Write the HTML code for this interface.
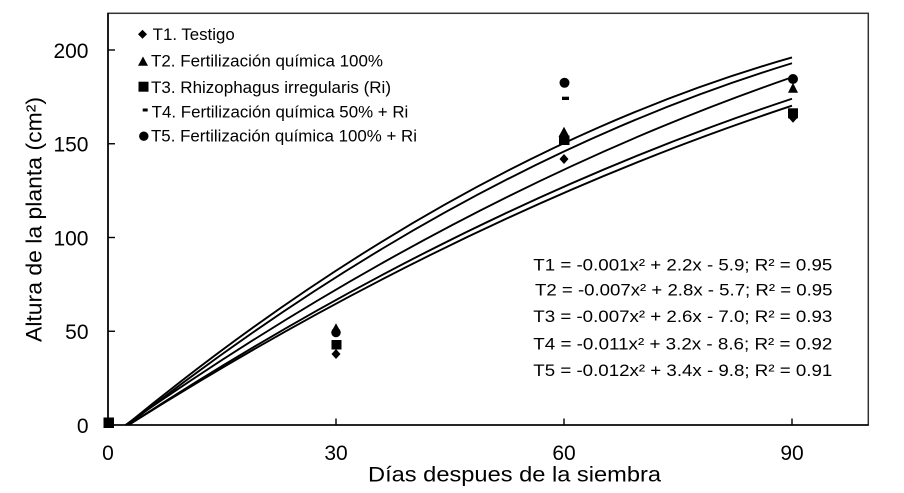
<!DOCTYPE html>
<html>
<head>
<meta charset="utf-8">
<style>
  html, body { margin: 0; padding: 0; background: #fff; }
  body { width: 904px; height: 493px; overflow: hidden; }
  svg { display: block; }
  text { font-family: "Liberation Sans", Arial, Helvetica, sans-serif; fill: #000; }
</style>
</head>
<body>
<svg width="904" height="493" viewBox="0 0 904 493" xmlns="http://www.w3.org/2000/svg">
  <rect x="0" y="0" width="904" height="493" fill="#fff"/>

  <!-- plot frame -->
  <rect x="108" y="13.3" width="760.3" height="411.7" fill="none" stroke="#333" stroke-width="1.5"/>
  <line x1="108" y1="13" x2="108" y2="425.7" stroke="#000" stroke-width="1.6"/>
  <line x1="107.3" y1="425" x2="868.5" y2="425" stroke="#000" stroke-width="1.6"/>

  <!-- y ticks (inside) -->
  <g stroke="#000" stroke-width="1.4">
    <line x1="108" y1="50" x2="115" y2="50"/>
    <line x1="108" y1="143.75" x2="115" y2="143.75"/>
    <line x1="108" y1="237.5" x2="115" y2="237.5"/>
    <line x1="108" y1="331.25" x2="115" y2="331.25"/>
  </g>
  <!-- x ticks (inside) -->
  <g stroke="#000" stroke-width="1.4">
    <line x1="336" y1="425" x2="336" y2="418.5"/>
    <line x1="564" y1="425" x2="564" y2="418.5"/>
    <line x1="792" y1="425" x2="792" y2="418.5"/>
  </g>

  <!-- y tick labels -->
  <g font-size="21" text-anchor="end">
    <text x="88.5" y="58">200</text>
    <text x="88.5" y="151.5">150</text>
    <text x="88.5" y="245.3">100</text>
    <text x="88.5" y="339">50</text>
    <text x="88.5" y="432.8">0</text>
  </g>
  <!-- x tick labels -->
  <g font-size="21" text-anchor="middle">
    <text x="108" y="460">0</text>
    <text x="336" y="460">30</text>
    <text x="564" y="460">60</text>
    <text x="792" y="460">90</text>
  </g>

  <!-- axis titles -->
  <text x="368" y="481.5" font-size="21" textLength="293" lengthAdjust="spacingAndGlyphs">Días despues de la siembra</text>
  <text transform="translate(41.5,219.5) rotate(-90)" font-size="22" text-anchor="middle" textLength="245" lengthAdjust="spacingAndGlyphs">Altura de la planta (cm²)</text>

  <!-- trend curves (quadratic fits as Bezier) -->
  <g fill="none" stroke="#000" stroke-width="1.9">
    <path d="M126.24,425 Q459.12,152.02 792,57.44"/>
    <path d="M127.76,425 Q459.88,164.36 792,63.27"/>
    <path d="M125.48,425 Q458.74,192.07 792,77.26"/>
    <path d="M128.52,425 Q460.26,208.27 792,98.73"/>
    <path d="M128.61,425 Q460.31,215.34 792,105.69"/>
  </g>

  <!-- data markers -->
  <g fill="#000">
    <!-- x = 0 -->
    <rect x="103.5" y="417.5" width="10.5" height="10.5"/>

    <!-- x = 30 -->
    <polygon points="336,349 340.5,354 336,359 331.5,354"/>
    <polygon points="336,323.3 341,332.5 331,332.5"/>
    <rect x="331.5" y="340" width="10" height="9.5"/>
    <circle cx="336" cy="332.5" r="4.7"/>

    <!-- x = 60 -->
    <polygon points="564,154 568.5,159 564,164 559.5,159"/>
    <polygon points="564,126.7 569.5,137 558.5,137"/>
    <rect x="559" y="135.5" width="10.5" height="9.5"/>
    <rect x="562" y="96.7" width="7" height="3.3"/>
    <circle cx="564.5" cy="82.8" r="5"/>

    <!-- x = 90 -->
    <polygon points="793,112.7 797.5,117.7 793,122.7 788.5,117.7"/>
    <polygon points="793,82.7 798,92.7 788,92.7"/>
    <rect x="788" y="108.3" width="10" height="10"/>
    <circle cx="793" cy="79" r="5"/>
  </g>

  <!-- legend -->
  <g fill="#000">
    <polygon points="142.5,29.8 147,34.3 142.5,38.8 138,34.3"/>
    <polygon points="143,56.5 148,65.7 138,65.7"/>
    <rect x="138.5" y="81.7" width="10" height="10"/>
    <rect x="142.7" y="108.5" width="5" height="3"/>
    <circle cx="143.8" cy="136.2" r="4.7"/>
  </g>
  <g font-size="16.5">
    <text x="152.7" y="40" textLength="82" lengthAdjust="spacingAndGlyphs">T1. Testigo</text>
    <text x="151" y="66.5" textLength="232" lengthAdjust="spacingAndGlyphs">T2. Fertilización química 100%</text>
    <text x="151" y="93" textLength="240" lengthAdjust="spacingAndGlyphs">T3. Rhizophagus irregularis (Ri)</text>
    <text x="151.7" y="117.3" textLength="256.6" lengthAdjust="spacingAndGlyphs">T4. Fertilización química 50% + Ri</text>
    <text x="151" y="141.7" textLength="266" lengthAdjust="spacingAndGlyphs">T5. Fertilización química 100% + Ri</text>
  </g>

  <!-- equations -->
  <g font-size="16.5">
    <text x="533.3" y="270.5" textLength="299" lengthAdjust="spacingAndGlyphs">T1 = -0.001x² + 2.2x - 5.9; R² = 0.95</text>
    <text x="535" y="295.5" textLength="297.5" lengthAdjust="spacingAndGlyphs">T2 = -0.007x² + 2.8x - 5.7; R² = 0.95</text>
    <text x="533.3" y="322" textLength="299" lengthAdjust="spacingAndGlyphs">T3 = -0.007x² + 2.6x - 7.0; R² = 0.93</text>
    <text x="533.3" y="349.3" textLength="299" lengthAdjust="spacingAndGlyphs">T4 = -0.011x² + 3.2x - 8.6; R² = 0.92</text>
    <text x="533.3" y="376" textLength="299" lengthAdjust="spacingAndGlyphs">T5 = -0.012x² + 3.4x - 9.8; R² = 0.91</text>
  </g>
</svg>
</body>
</html>
